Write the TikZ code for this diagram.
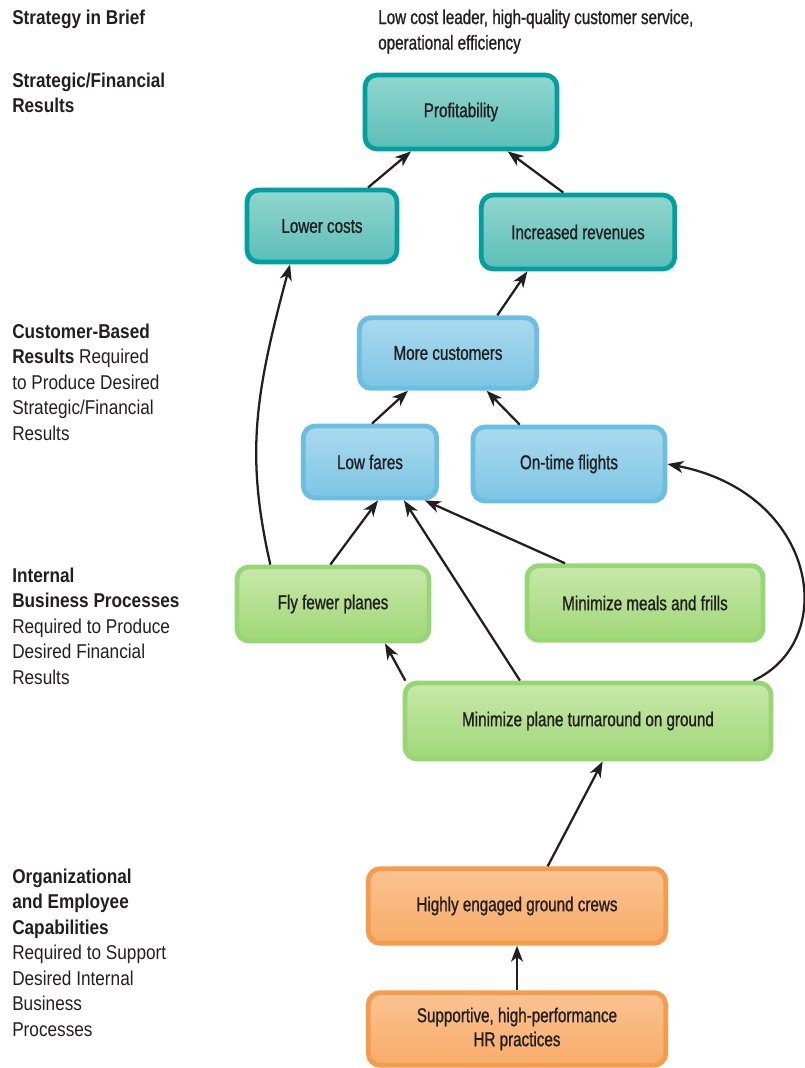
\documentclass[tikz,border=0pt]{standalone}
\usepackage{fontspec}
\setmainfont{Liberation Sans}[FakeStretch=0.86]
\newfontfamily\boxfont{Liberation Sans}[FakeStretch=0.76, FakeBold=1]
\usetikzlibrary{arrows.meta}

\definecolor{tealline}{RGB}{0,160,160}
\definecolor{tealtop}{RGB}{145,214,206}
\definecolor{tealbot}{RGB}{92,190,184}
\definecolor{blueline}{RGB}{105,190,225}
\definecolor{bluetop}{RGB}{170,218,238}
\definecolor{bluebot}{RGB}{125,197,228}
\definecolor{greenline}{RGB}{150,215,115}
\definecolor{greentop}{RGB}{200,232,170}
\definecolor{greenbot}{RGB}{160,216,120}
\definecolor{orangeline}{RGB}{245,155,75}
\definecolor{orangetop}{RGB}{251,195,145}
\definecolor{orangebot}{RGB}{247,172,105}
\definecolor{ink}{RGB}{35,31,32}

\tikzset{
	box/.style={rounded corners=9pt, line width=3.6pt, align=center, text=ink,
		font=\boxfont\fontsize{15}{18}\selectfont, inner sep=2pt},
	tealbox/.style={box, draw=tealline, top color=tealtop, bottom color=tealbot},
	bluebox/.style={box, draw=blueline, top color=bluetop, bottom color=bluebot},
	greenbox/.style={box, draw=greenline, top color=greentop, bottom color=greenbot},
	orangebox/.style={box, draw=orangeline, top color=orangetop, bottom color=orangebot},
	lbl/.style={anchor=base west, align=left, inner sep=0pt, text=ink,
		font=\fontsize{15}{19.1}\selectfont},
	link/.style={line width=1.7pt, draw=ink, -{Stealth[length=12pt, width=9pt, inset=3.5pt]}}
}

\begin{document}
\begin{tikzpicture}[x=0.75pt,y=0.75pt,yscale=-1,xscale=1]
	\useasboundingbox (0,0) rectangle (805,1068);
	
	% Text Node (base = last line)
	\node[lbl] (brief) at (12,24.5) {\textbf{Strategy in Brief}};
	% Text Node
	\node[lbl, font=\boxfont\fontsize{15}{19.1}\selectfont] (briefText) at (378,49.5) {Low cost leader, high-quality customer service,\\operational efficiency};
	% Text Node
	\node[lbl] (finLbl) at (12,112.5) {\textbf{Strategic/Financial}\\\textbf{Results}};
	% Text Node
	\node[lbl] (custLbl) at (12,440) {\textbf{Customer-Based}\\\textbf{Results} Required\\to Produce Desired\\Strategic/Financial\\Results};
	% Text Node
	\node[lbl] (procLbl) at (12,684) {\textbf{Internal}\\\textbf{Business Processes}\\Required to Produce\\Desired Financial\\Results};
	% Text Node
	\node[lbl] (orgLbl) at (12,1036) {\textbf{Organizational}\\\textbf{and Employee}\\\textbf{Capabilities}\\Required to Support\\Desired Internal\\Business\\Processes};
	
	% Strategic/financial boxes
	\node[tealbox, minimum width=144pt, minimum height=55.5pt] (prof) at (461,112) {Profitability};
	\node[tealbox, minimum width=112.5pt, minimum height=54pt] (cost) at (322,226) {Lower costs};
	\node[tealbox, minimum width=145pt, minimum height=55.5pt] (rev) at (578,232) {Increased revenues};
	% Customer boxes
	\node[bluebox, minimum width=133pt, minimum height=53pt] (cust) at (448,353) {More customers};
	\node[bluebox, minimum width=100pt, minimum height=54pt] (fares) at (370,462) {Low fares};
	\node[bluebox, minimum width=144pt, minimum height=55.5pt] (ontime) at (569,464) {On-time flights};
	% Process boxes
	\node[greenbox, minimum width=144pt, minimum height=55.5pt] (fewer) at (333,604) {Fly fewer planes};
	\node[greenbox, minimum width=177pt, minimum height=56pt] (meals) at (645,603) {Minimize meals and frills};
	\node[greenbox, minimum width=274.5pt, minimum height=57pt] (turn) at (588,721) {Minimize plane turnaround on ground};
	% Capability boxes
	\node[orangebox, minimum width=223pt, minimum height=56pt] (crews) at (517,906) {Highly engaged ground crews};
	\node[orangebox, minimum width=223pt, minimum height=54.5pt] (hr) at (517,1029) {Supportive, high-performance\\HR practices};
	
	% Connection
	\draw[link] ([xshift=34.5pt]cost.north) -- ([xshift=-37.5pt]prof.south);
	% Connection
	\draw[link] ([xshift=-11pt]rev.north) -- ([xshift=35pt]prof.south);
	% Connection
	\draw[link] ([xshift=37pt]cust.north) -- ([xshift=-38pt]rev.south);
	% Connection
	\draw[link] ([xshift=1.5pt]fares.north) -- ([xshift=-30pt]cust.south);
	% Connection
	\draw[link] ([xshift=-37pt]ontime.north) -- ([xshift=29pt]cust.south);
	% Connection
	\draw[link] ([xshift=-2pt]fewer.north) -- ([xshift=6pt]fares.south);
	% Connection
	\draw[link] ([xshift=-47pt]fewer.north) .. controls +(-25,-110) and +(-35,130) .. ([xshift=-24pt]cost.south);
	% Connection
	\draw[link] ([xshift=-60pt]meals.north) -- ([xshift=41pt]fares.south);
	% Connection
	\draw[link] ([xshift=-51pt]turn.north) -- ([xshift=25.5pt]fares.south);
	% Connection
	\draw[link] ([xshift=-137pt]turn.north) -- ([xshift=39pt]fewer.south);
	% Connection
	\draw[link] ([xshift=124pt]turn.north) .. controls +(87,-40) and +(150,29) .. (ontime.east);
	% Connection
	\draw[link] ([xshift=23pt]crews.north) -- ([xshift=11pt]turn.south);
	% Connection
	\draw[link] (hr.north) -- (crews.south);
	
\end{tikzpicture}
\end{document}
